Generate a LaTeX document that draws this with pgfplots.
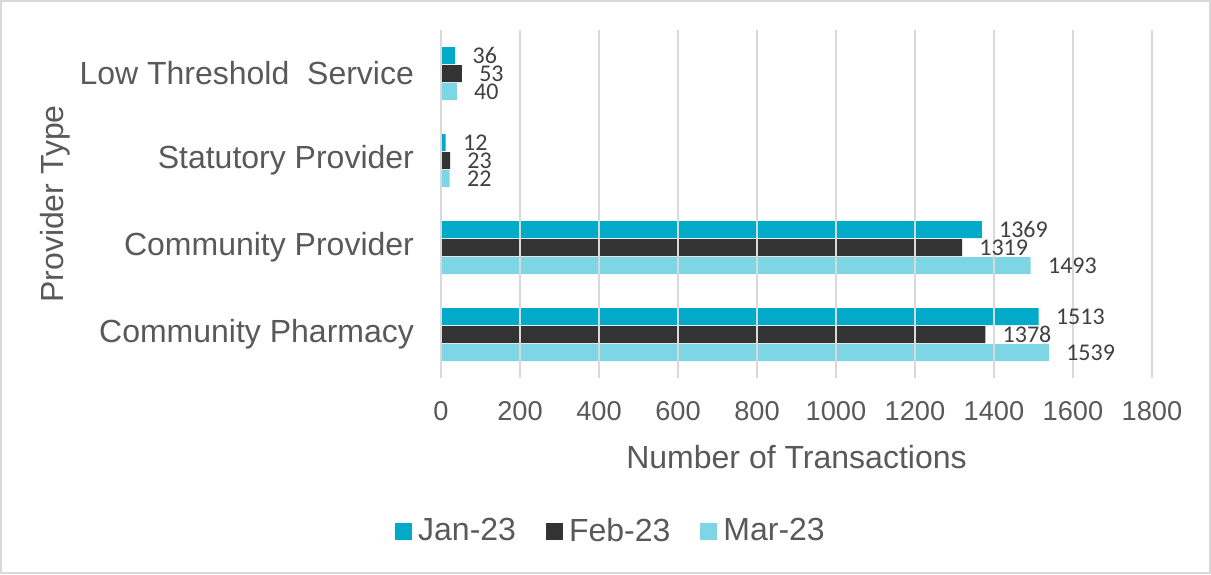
\documentclass[border=0pt]{standalone}
\usepackage{fontspec}
\setmainfont{Liberation Sans}
\newfontfamily\carlito{Carlito}
\usepackage{pgfplots}
\pgfplotsset{compat=1.18}
\definecolor{cjan}{RGB}{0,170,200}
\definecolor{cfeb}{RGB}{51,51,51}
\definecolor{cmar}{RGB}{126,214,228}
\definecolor{txt}{RGB}{89,89,89}
\definecolor{lbl}{RGB}{64,64,64}
\definecolor{gridc}{RGB}{217,217,217}

\begin{document}
\begin{tikzpicture}
\begin{axis}[
  scale only axis,
  width=355.5pt, height=174pt,
  xbar, bar width=8.5pt,
  xmin=0, xmax=1800, ymin=-0.5, ymax=3.5,
  xtick={0,200,...,1800},
  ytick={0,1,2,3},
  yticklabels={Community Pharmacy, Community Provider, Statutory Provider, Low Threshold\ \ Service},
  axis line style={draw=none},
  major tick length=0pt,
  xmajorgrids, grid style={gridc, line width=1pt},
  axis on top,
  /pgf/number format/assume math mode=true,
  /pgf/number format/1000 sep={},
  tick label style={text=txt, font=\fontsize{13.6}{15}\selectfont},
  yticklabel style={font=\fontsize{16}{18}\selectfont},
  xticklabel shift=8pt,
  yticklabel shift=10pt,
  xlabel={Number of Transactions},
  ylabel={Provider Type},
  label style={text=txt, font=\fontsize{16}{18}\selectfont},
  xlabel style={at={(rel axis cs:0.5,-0.227)}, anchor=center},
  ylabel style={at={(rel axis cs:-0.543,0.5)}, anchor=center, rotate=0},
  nodes near coords,
  nodes near coords style={font=\carlito\fontsize{12}{13}\selectfont, text=lbl, anchor=west, inner sep=0pt, xshift=8.5pt},
  legend style={at={(rel axis cs:0.2405,-0.44)}, anchor=center, draw=none,
    legend columns=3, font=\fontsize{16}{18}\selectfont, text=txt,
    /tikz/every odd column/.append style={column sep=1pt},
    /tikz/every even column/.append style={column sep=13pt}},
  legend image code/.code={\fill[#1] (0pt,-4.25pt) rectangle (8.5pt,4.25pt);},
]
\addplot[fill=cjan, draw=none, bar shift=9pt] coordinates {(1513,0) (1369,1) (12,2) (36,3)};
\addlegendentry{Jan-23}
\addplot[fill=cfeb, draw=none, bar shift=0pt] coordinates {(1378,0) (1319,1) (23,2) (53,3)};
\addlegendentry{Feb-23}
\addplot[fill=cmar, draw=none, bar shift=-9pt] coordinates {(1539,0) (1493,1) (22,2) (40,3)};
\addlegendentry{Mar-23}
\end{axis}
\draw[gridc, line width=1pt] (-220pt,-97.5pt) rectangle (384.5pt,188.5pt);
\end{tikzpicture}
\end{document}
